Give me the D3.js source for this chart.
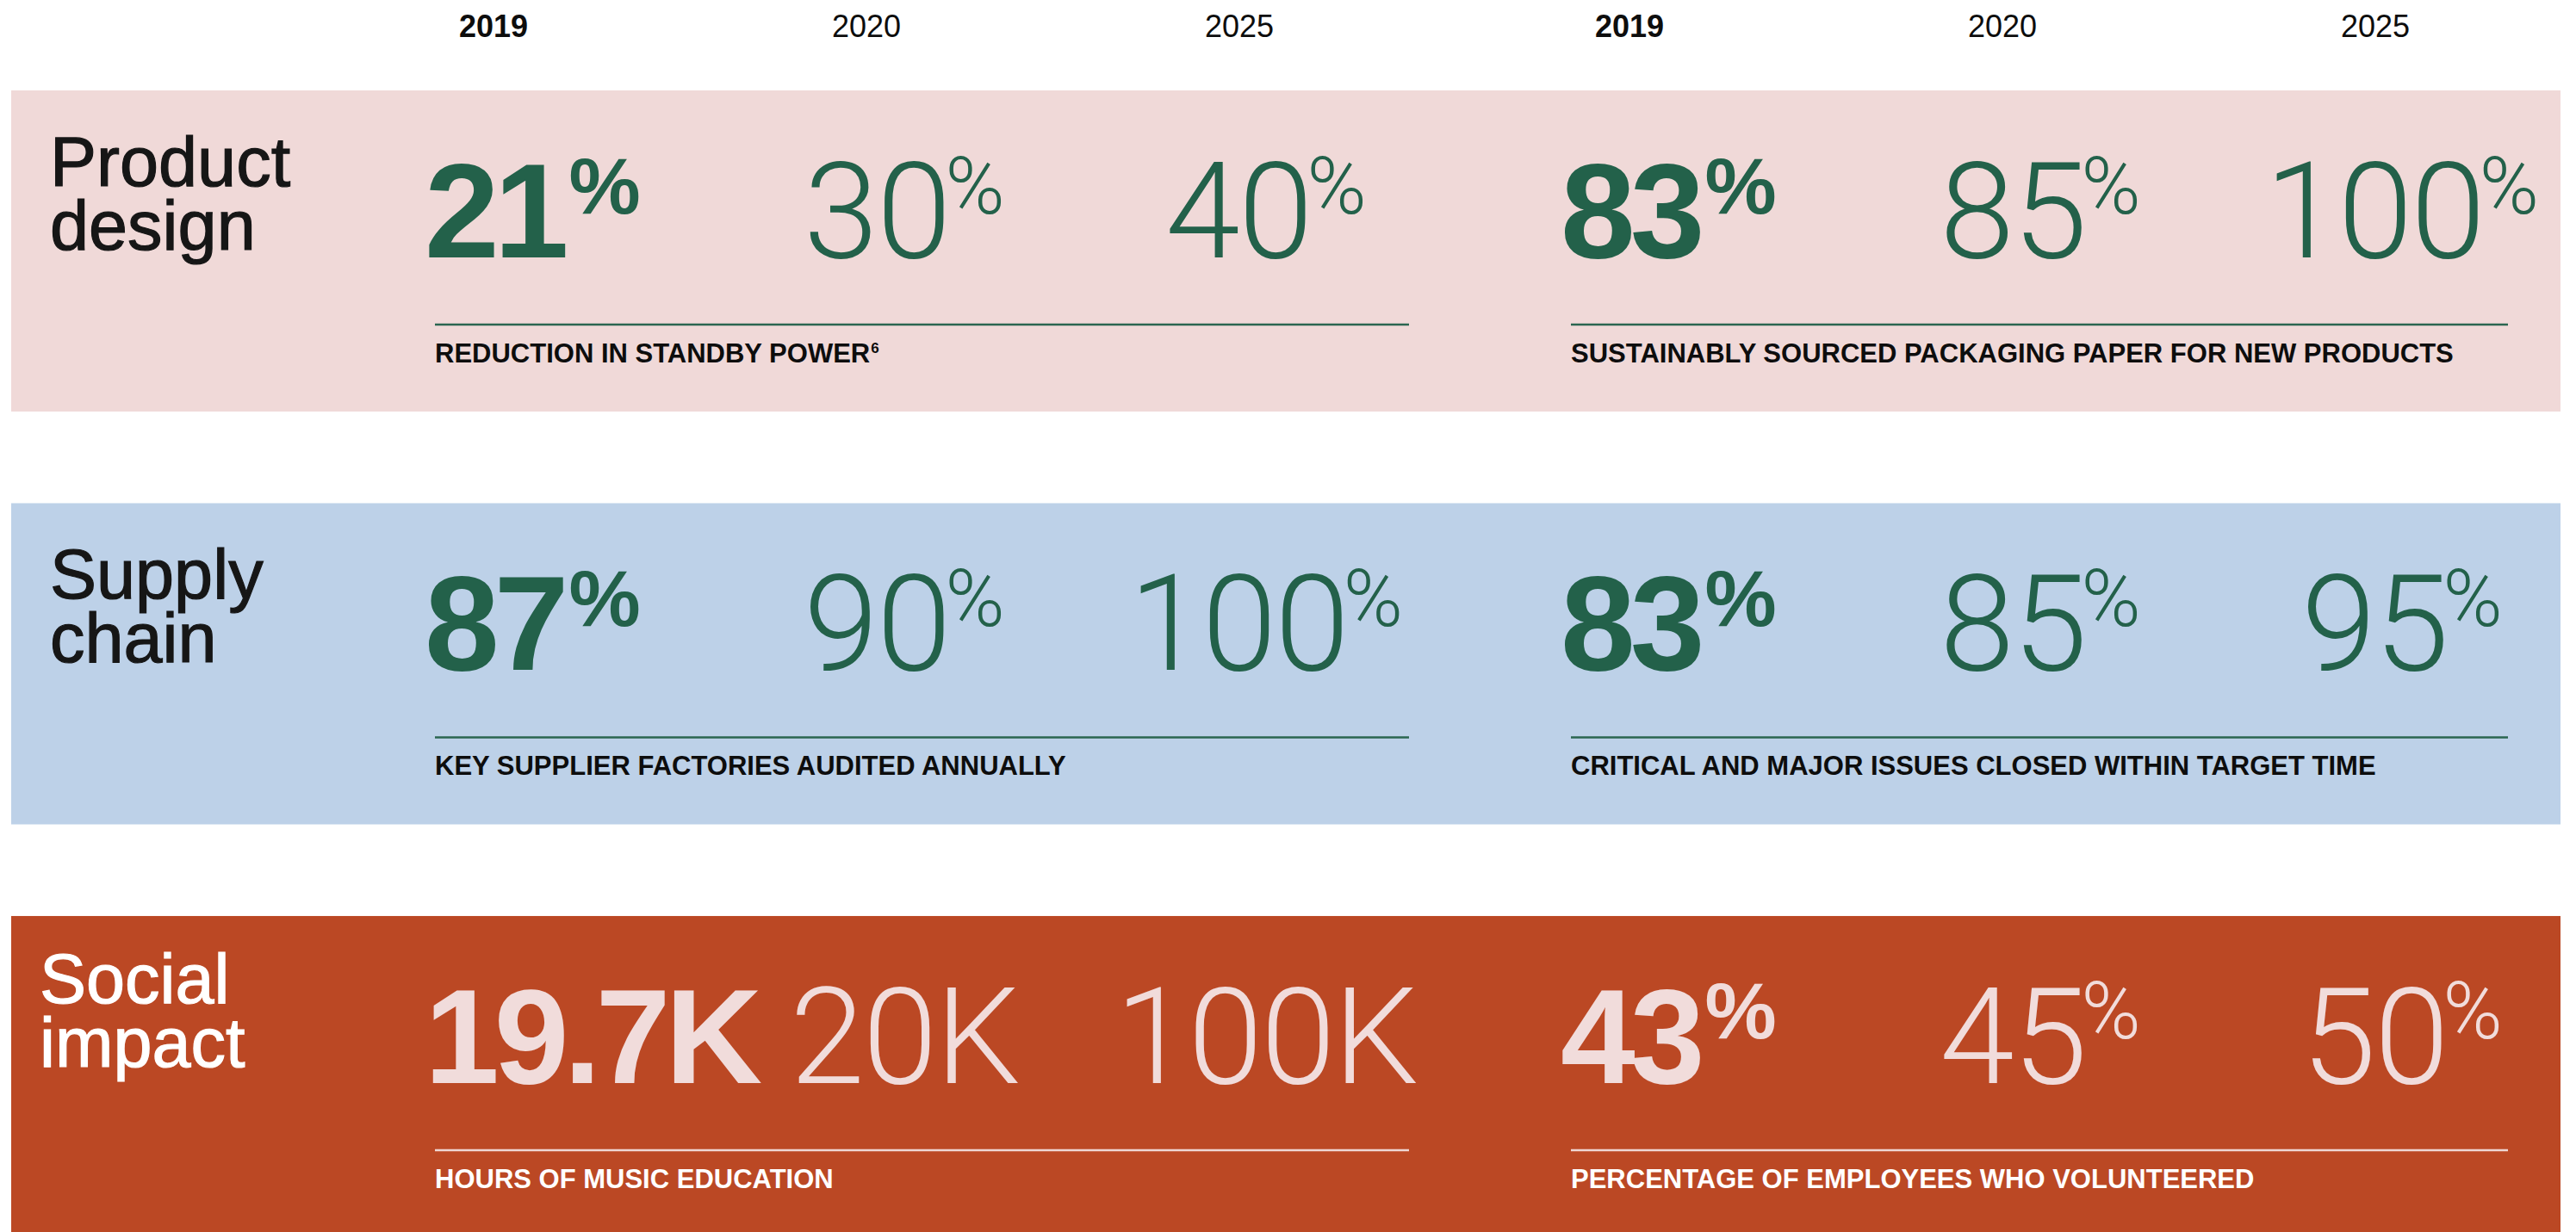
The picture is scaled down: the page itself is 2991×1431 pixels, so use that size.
<!DOCTYPE html>
<html>
<head>
<meta charset="utf-8">
<script src="https://cdn.jsdelivr.net/npm/d3@7"></script>
<style>
    html, body { margin: 0; padding: 0; background: #ffffff; overflow: hidden; }
    svg { display: block; }
</style>
</head>
<body>
<script>
// Target years shown above each group of three values
const years = ['2019', '2020', '2025'];

// Row headings (two lines each)
const rowNames = [
    ['Product', 'design'],
    ['Supply', 'chain'],
    ['Social', 'impact']
];

// Metric captions, left group then right group
const productDesignLabels = ['REDUCTION IN STANDBY POWER', 'SUSTAINABLY SOURCED PACKAGING PAPER FOR NEW PRODUCTS'];
const supplyChainLabels = ['KEY SUPPLIER FACTORIES AUDITED ANNUALLY', 'CRITICAL AND MAJOR ISSUES CLOSED WITHIN TARGET TIME'];
const socialImpactLabels = ['HOURS OF MUSIC EDUCATION', 'PERCENTAGE OF EMPLOYEES WHO VOLUNTEERED'];
const productDesignFootnotes = ['6', ''];

// Values per metric: 2019 actual, 2020 target, 2025 target
const productDesignValues = [[21, 30, 40], [83, 85, 100]];
const supplyChainValues = [[87, 90, 100], [83, 85, 95]];
const socialImpactValues = [[19.7, 20, 100], [43, 45, 50]];

// Units per metric
const productDesignUnits = ['%', '%'];
const supplyChainUnits = ['%', '%'];
const socialImpactUnits = ['K', '%'];

// Build the row table from the arrays above
const rows = [
    { name: rowNames[0], labels: productDesignLabels, notes: productDesignFootnotes, values: productDesignValues, units: productDesignUnits, theme: 'pink' },
    { name: rowNames[1], labels: supplyChainLabels, notes: ['', ''], values: supplyChainValues, units: supplyChainUnits, theme: 'blue' },
    { name: rowNames[2], labels: socialImpactLabels, notes: ['', ''], values: socialImpactValues, units: socialImpactUnits, theme: 'red' }
];

// Colour themes
const themes = {
    pink: { bg: '#f0d9d8', value: '#23614a', rule: '#2b6650', name: '#161616', caption: '#0d0d0d' },
    blue: { bg: '#bdd1e8', value: '#23614a', rule: '#2b6650', name: '#161616', caption: '#0d0d0d' },
    red:  { bg: '#bb4824', value: '#f1dcdb', rule: '#efd6d3', name: '#ffffff', caption: '#ffffff' }
};

const W = 2991, H = 1431;
const numSize = 156;
const sansFont = '"Liberation Sans", Arial, Helvetica, sans-serif';
const lightFont = 'Roboto, "Liberation Sans", sans-serif';

const svg = d3.select('body').append('svg')
    .attr('width', W)
    .attr('height', H);

// Row bands
const yBand = d3.scaleBand()
    .domain(d3.range(rows.length))
    .range([105, 1437])
    .paddingInner(0.222);

// Two metric groups (start / end of the rule under each)
const groups = [
    { x0: 505, x1: 1636 },
    { x0: 1824, x1: 2912 }
];

// Year header positions and value positions within a group
const headerX = g => d3.scalePoint().domain(years).range([g.x0 + 68, g.x0 + 934]);
const valueX = g => d3.scalePoint().domain(years).range([g.x0 + 125, g.x0 + 965]);

// Year headers
groups.forEach(g => {
    const hx = headerX(g);
    svg.append('g')
        .selectAll('text')
        .data(years)
        .join('text')
        .attr('x', d => hx(d))
        .attr('y', 43)
        .attr('text-anchor', 'middle')
        .attr('font-family', sansFont)
        .attr('font-size', 36)
        .attr('font-weight', (d, i) => i === 0 ? 700 : 400)
        .attr('fill', '#0d0d0d')
        .text(d => d);
});

// Format a value without trailing zeros
function fmt(v) {
    return d3.format('~g')(v);
}

rows.forEach((row, ri) => {
    const t = themes[row.theme];
    const top = yBand(ri);
    const band = svg.append('g').attr('class', 'row');

    band.append('rect')
        .attr('x', 13)
        .attr('y', top)
        .attr('width', 2973 - 13)
        .attr('height', yBand.bandwidth())
        .attr('fill', t.bg);

    // Row heading (tight leading like the original)
    const nameY = ri === 2 ? top + 101 : top + 111;
    const nameX = ri === 2 ? 46 : 58;
    band.selectAll('text.name')
        .data(row.name)
        .join('text')
        .attr('class', 'name')
        .attr('x', nameX)
        .attr('y', (d, i) => nameY + i * 74)
        .attr('font-family', sansFont)
        .attr('font-size', 81)
        .attr('fill', t.name)
        .attr('stroke', t.name)
        .attr('stroke-width', 1.2)
        .text(d => d);

    groups.forEach((g, gi) => {
        const vx = valueX(g);
        const vals = row.values[gi];
        const unit = row.units[gi];

        // Values: first year bold, targets light
        vals.forEach((v, ci) => {
            const bold = ci === 0;
            const txt = band.append('text')
                .attr('x', bold ? g.x0 - 12 : vx(years[ci]))
                .attr('y', top + 194)
                .attr('text-anchor', bold ? 'start' : 'middle')
                .attr('font-family', bold ? sansFont : lightFont)
                .attr('font-weight', bold ? 700 : 300)
                .attr('font-size', numSize)
                .attr('letter-spacing', bold ? -6 : -2)
                .attr('fill', t.value);

            if (unit === '%') {
                txt.append('tspan').text(fmt(v));
                txt.append('tspan')
                    .attr('font-size', numSize * 0.6)
                    .attr('dy', -numSize * 0.33)
                    .attr('dx', bold ? 6 : -5)
                    .attr('letter-spacing', 0)
                    .text('%');
            } else {
                txt.text(fmt(v) + unit);
            }
        });

        // Rule
        band.append('line')
            .attr('x1', g.x0)
            .attr('x2', g.x1)
            .attr('y1', top + 272)
            .attr('y2', top + 272)
            .attr('stroke', t.rule)
            .attr('stroke-width', 2.5);

        // Caption
        const cap = band.append('text')
            .attr('x', g.x0)
            .attr('y', top + 316)
            .attr('font-family', sansFont)
            .attr('font-weight', 700)
            .attr('font-size', 31)
            .attr('fill', t.caption);
        cap.append('tspan').text(row.labels[gi]);
        if (row.notes[gi]) {
            cap.append('tspan')
                .attr('font-size', 17)
                .attr('dy', -11)
                .attr('dx', 1)
                .text(row.notes[gi]);
        }
    });
});
</script>
</body>
</html>
